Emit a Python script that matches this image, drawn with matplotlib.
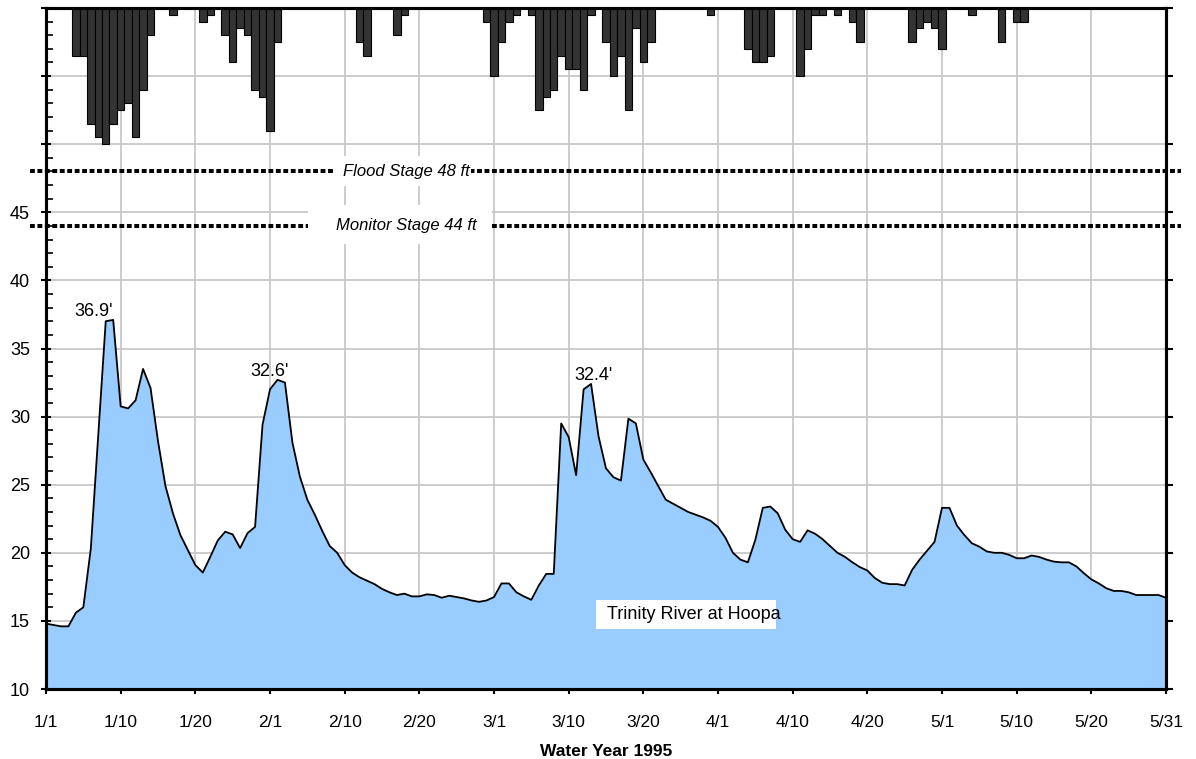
import matplotlib
matplotlib.use('Agg')
import matplotlib.pyplot as plt
from matplotlib.patches import Rectangle

plt.rcParams['font.family'] = ['Liberation Sans', 'DejaVu Sans']

# Pegel Trinity River at Hoopa (ft), ein Wert je Position 1/1 ... 5/31
stage = [14.8, 14.7, 14.6, 14.6, 15.6, 16.0, 20.3, 28.7, 37.0, 37.1,
         30.75, 30.6, 31.2, 33.5, 32.1, 28.2, 24.9, 22.9, 21.3, 20.2,
         19.1, 18.55, 19.7, 20.9, 21.55, 21.35, 20.35, 21.45, 21.9, 29.4,
         32.0, 32.7, 32.5, 28.1, 25.6, 23.9, 22.8, 21.6, 20.5, 20.0,
         19.1, 18.55, 18.2, 17.95, 17.7, 17.35, 17.1, 16.9, 17.0, 16.8,
         16.8, 16.95, 16.9, 16.7, 16.85, 16.75, 16.65, 16.5, 16.4, 16.5,
         16.75, 17.75, 17.75, 17.1, 16.8, 16.55, 17.6, 18.45, 18.45, 29.5,
         28.5, 25.7, 32.0, 32.4, 28.55, 26.2, 25.55, 25.3, 29.85, 29.5,
         26.85, 25.9, 24.9, 23.9, 23.6, 23.3, 23.0, 22.8, 22.6, 22.35,
         21.9, 21.1, 20.0, 19.5, 19.3, 20.95, 23.3, 23.4, 22.9, 21.7,
         21.0, 20.8, 21.65, 21.4, 21.0, 20.5, 20.0, 19.7, 19.3, 18.95,
         18.7, 18.15, 17.8, 17.7, 17.7, 17.6, 18.75, 19.5, 20.15, 20.8,
         23.3, 23.3, 22.0, 21.3, 20.7, 20.45, 20.1, 20.0, 20.0, 19.85,
         19.6, 19.6, 19.8, 19.7, 19.5, 19.35, 19.3, 19.3, 19.0, 18.5,
         18.05, 17.75, 17.4, 17.2, 17.2, 17.1, 16.9, 16.9, 16.9, 16.9,
         16.7]
days = list(range(len(stage)))

# Niederschlag (Balken von oben), nur Tage mit Regen
rain_day = [4, 5, 6, 7, 8, 9, 10, 11, 12, 13, 14, 17, 21, 22,
            24, 25, 26, 27, 28, 29, 30, 31, 42, 43, 47, 48,
            59, 60, 61, 62, 63, 65, 66, 67, 68, 69, 70, 71, 72, 73,
            75, 76, 77, 78, 79, 80, 81, 89, 94, 95, 96, 97,
            101, 102, 103, 104, 106, 108, 109, 116, 117, 118, 119, 120,
            124, 128, 130, 131]
rain_in = [0.35, 0.35, 0.85, 0.95, 1.0, 0.85, 0.75, 0.7, 0.95, 0.6, 0.2, 0.05, 0.1, 0.05,
           0.2, 0.4, 0.15, 0.2, 0.6, 0.65, 0.9, 0.25, 0.25, 0.35, 0.2, 0.05,
           0.1, 0.5, 0.25, 0.1, 0.05, 0.05, 0.75, 0.65, 0.6, 0.35, 0.45, 0.45, 0.6, 0.05,
           0.25, 0.5, 0.35, 0.75, 0.15, 0.4, 0.25, 0.05, 0.3, 0.4, 0.4, 0.35,
           0.5, 0.3, 0.05, 0.05, 0.05, 0.1, 0.25, 0.25, 0.15, 0.1, 0.15, 0.3,
           0.05, 0.25, 0.1, 0.1]

tick_pos = [0, 10, 20, 30, 40, 50, 60, 70, 80, 90, 100, 110, 120, 130, 140, 150]
tick_labels = ['1/1', '1/10', '1/20', '2/1', '2/10', '2/20', '3/1', '3/10', '3/20',
               '4/1', '4/10', '4/20', '5/1', '5/10', '5/20', '5/31']
flood_stage = 48
monitor_stage = 44

fig = plt.figure(figsize=(11.96, 7.59), dpi=100)
ax = fig.add_axes([46 / 1196, 1 - 689 / 759, 1120 / 1196, 681 / 759])

# Flaeche + Linie
ax.fill_between(days, stage, 10, color='#99ccff', linewidth=0, zorder=1)
ax.plot(days, stage, color='black', linewidth=1.3, zorder=2)

ax.set_xlim(0, 150)
ax.set_ylim(10, 60)
ax.set_xticks(tick_pos)
ax.set_xticklabels(tick_labels, fontsize=12.5)
ax.set_yticks(range(10, 61, 5))
ax.set_yticklabels([str(v) if v <= 45 else '' for v in range(10, 61, 5)], fontsize=13)
ax.set_yticks(range(10, 61), minor=True)
ax.grid(True, color='#c8c8c8', linewidth=1.3)
ax.set_axisbelow(True)
ax.tick_params(axis='y', which='major', direction='inout', length=7, width=1.5, pad=8)
ax.tick_params(axis='y', which='minor', direction='in', length=5, width=1.2)
ax.tick_params(axis='x', which='major', direction='inout', length=7, width=1.5, pad=15)
for s in ax.spines.values():
    s.set_linewidth(2.2)

# Hochwasser- und Beobachtungsstufe
for lvl in [flood_stage, monitor_stage]:
    ax.plot([-2.1, 152], [lvl, lvl], color='black', linewidth=2.9,
            linestyle=(0, (1.2, 0.65)), clip_on=False, zorder=3)

ax.add_patch(Rectangle((38.4, 46.9), 18.5, 2.2, facecolor='white', edgecolor='none', zorder=4))
ax.text(39.8, 48.0, 'Flood Stage 48 ft', fontsize=12, style='italic', va='center', zorder=5)
ax.add_patch(Rectangle((35.1, 42.65), 24.6, 2.85, facecolor='white', edgecolor='none', zorder=4))
ax.text(38.8, 44.0, 'Monitor Stage 44 ft', fontsize=12, style='italic', va='center', zorder=5)

ax.add_patch(Rectangle((73.7, 14.4), 24.1, 2.15, facecolor='white', edgecolor='none', zorder=4))
ax.text(75.1, 15.45, 'Trinity River at Hoopa', fontsize=13, va='center', zorder=5)

# Spitzenwerte
ax.text(6.4, 37.1, "36.9'", fontsize=13, ha='center', va='bottom')
ax.text(29.9, 32.7, "32.6'", fontsize=13, ha='center', va='bottom')
ax.text(73.3, 32.4, "32.4'", fontsize=13, ha='center', va='bottom')

ax.set_xlabel('Water Year 1995', fontsize=12.5, fontweight='bold', labelpad=10)

# Niederschlag auf zweiter Achse, von oben nach unten
ax2 = ax.twinx()
ax2.bar(rain_day, rain_in, width=1.0, color='#333333', edgecolor='black', linewidth=0.8)
ax2.set_ylim(5, 0)
ax2.set_yticks([i * 0.5 for i in range(11)])
ax2.set_yticklabels([])
ax2.tick_params(axis='y', direction='out', length=5, width=1.5)
for s in ax2.spines.values():
    s.set_linewidth(2.2)

fig.savefig('out.png', dpi=100)
